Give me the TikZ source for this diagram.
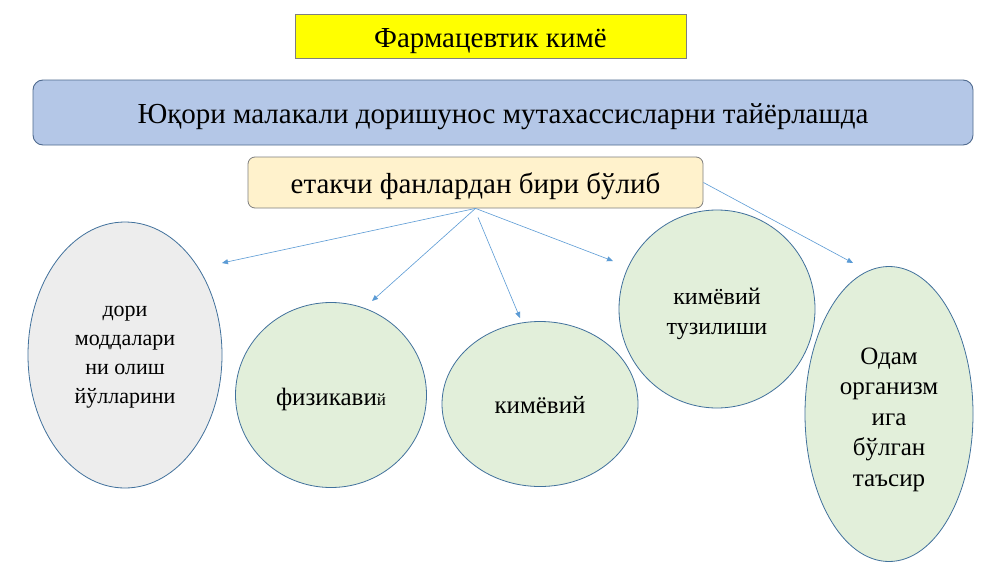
\documentclass[tikz,border=0pt]{standalone}
\usepackage{fontspec}
\setmainfont{Liberation Serif}
\usetikzlibrary{shapes.geometric,arrows.meta}
\definecolor{titleyellow}{HTML}{FFFF00}
\definecolor{boxgray}{HTML}{7F7F7F}
\definecolor{bluefill}{HTML}{B4C7E7}
\definecolor{blueedge}{HTML}{4F6A8F}
\definecolor{creamfill}{HTML}{FFF2CC}
\definecolor{greenfill}{HTML}{E2EFDA}
\definecolor{grayfill}{HTML}{EDEDED}
\definecolor{ellipseedge}{HTML}{41719C}
\definecolor{arrowblue}{HTML}{5B9BD5}
\newcommand{\dropped}[2]{\raisebox{-#1}[\height][\depth]{\begin{tabular}{@{}c@{}}#2\end{tabular}}}
\tikzset{
  titlebox/.style={draw=boxgray, fill=titleyellow, line width=0.8pt, inner sep=0pt},
  mainbox/.style={draw=blueedge, fill=bluefill, line width=0.9pt, rounded corners=10pt, inner sep=0pt},
  subbox/.style={draw=boxgray, fill=creamfill, line width=0.8pt, rounded corners=7pt, inner sep=0pt},
  oval/.style={ellipse, draw=ellipseedge, line width=0.8pt, fill=greenfill, inner sep=0pt},
  grayoval/.style={oval, fill=grayfill},
  link/.style={draw=arrowblue, line width=0.6pt, -{Triangle[length=6pt,width=5pt]}},
}
\begin{document}
\begin{tikzpicture}[x=1pt,y=-1pt]
\useasboundingbox (0,0) rectangle (1000,562);
\fill[white] (0,0) rectangle (1000,562);
\node[titlebox, minimum width=391pt, minimum height=44pt, font=\fontsize{29}{34}\selectfont] (title) at (490.5,36)
  {\dropped{5pt}{Фармацевтик кимё}};
\node[mainbox, minimum width=940pt, minimum height=65pt, font=\fontsize{29}{34}\selectfont] (main) at (503,112.5)
  {\dropped{4pt}{Юқори малакали доришунос мутахассисларни тайёрлашда}};
\node[subbox, minimum width=455pt, minimum height=51pt, font=\fontsize{29}{34}\selectfont] (ek) at (475.5,182.5)
  {\dropped{4pt}{етакчи фанлардан бири бўлиб}};

\node[grayoval, minimum width=194pt, minimum height=266pt, font=\fontsize{22}{29}\selectfont] (dori) at (125,355)
  {\dropped{-1pt}{дори\\моддалари\\ни олиш\\йўлларини}};
\node[oval, minimum width=191pt, minimum height=185pt, font=\fontsize{25}{30}\selectfont] (fiz) at (331,395)
  {\dropped{4pt}{физикави{\fontsize{17}{20}\selectfont й}}};
\node[oval, minimum width=196pt, minimum height=165pt, font=\fontsize{25}{30}\selectfont] (kim) at (540,404)
  {\dropped{3pt}{кимёвий}};
\node[oval, minimum width=196pt, minimum height=198pt, font=\fontsize{24}{30}\selectfont] (tuz) at (717,309)
  {\dropped{4pt}{кимёвий\\тузилиши}};
\node[oval, minimum width=168pt, minimum height=295pt, font=\fontsize{25}{30.5}\selectfont] (odam) at (889,414)
  {\dropped{5pt}{Одам\\организм\\ига\\бўлган\\таъсир}};

\coordinate (t1) at (222,263);
\coordinate (t2) at (372,301);
\coordinate (t3) at (520,318);
\coordinate (t4) at (613,261);
\coordinate (t5) at (853,263);
\draw[link] (ek.south) -- (t1);
\draw[link] (ek.south) -- (t2);
\draw[link] ([xshift=2.5pt,yshift=-9pt]ek.south) -- (t3);
\draw[link] (ek.south) -- (t4);
\draw[link] (ek.east) -- (t5);
\end{tikzpicture}
\end{document}
